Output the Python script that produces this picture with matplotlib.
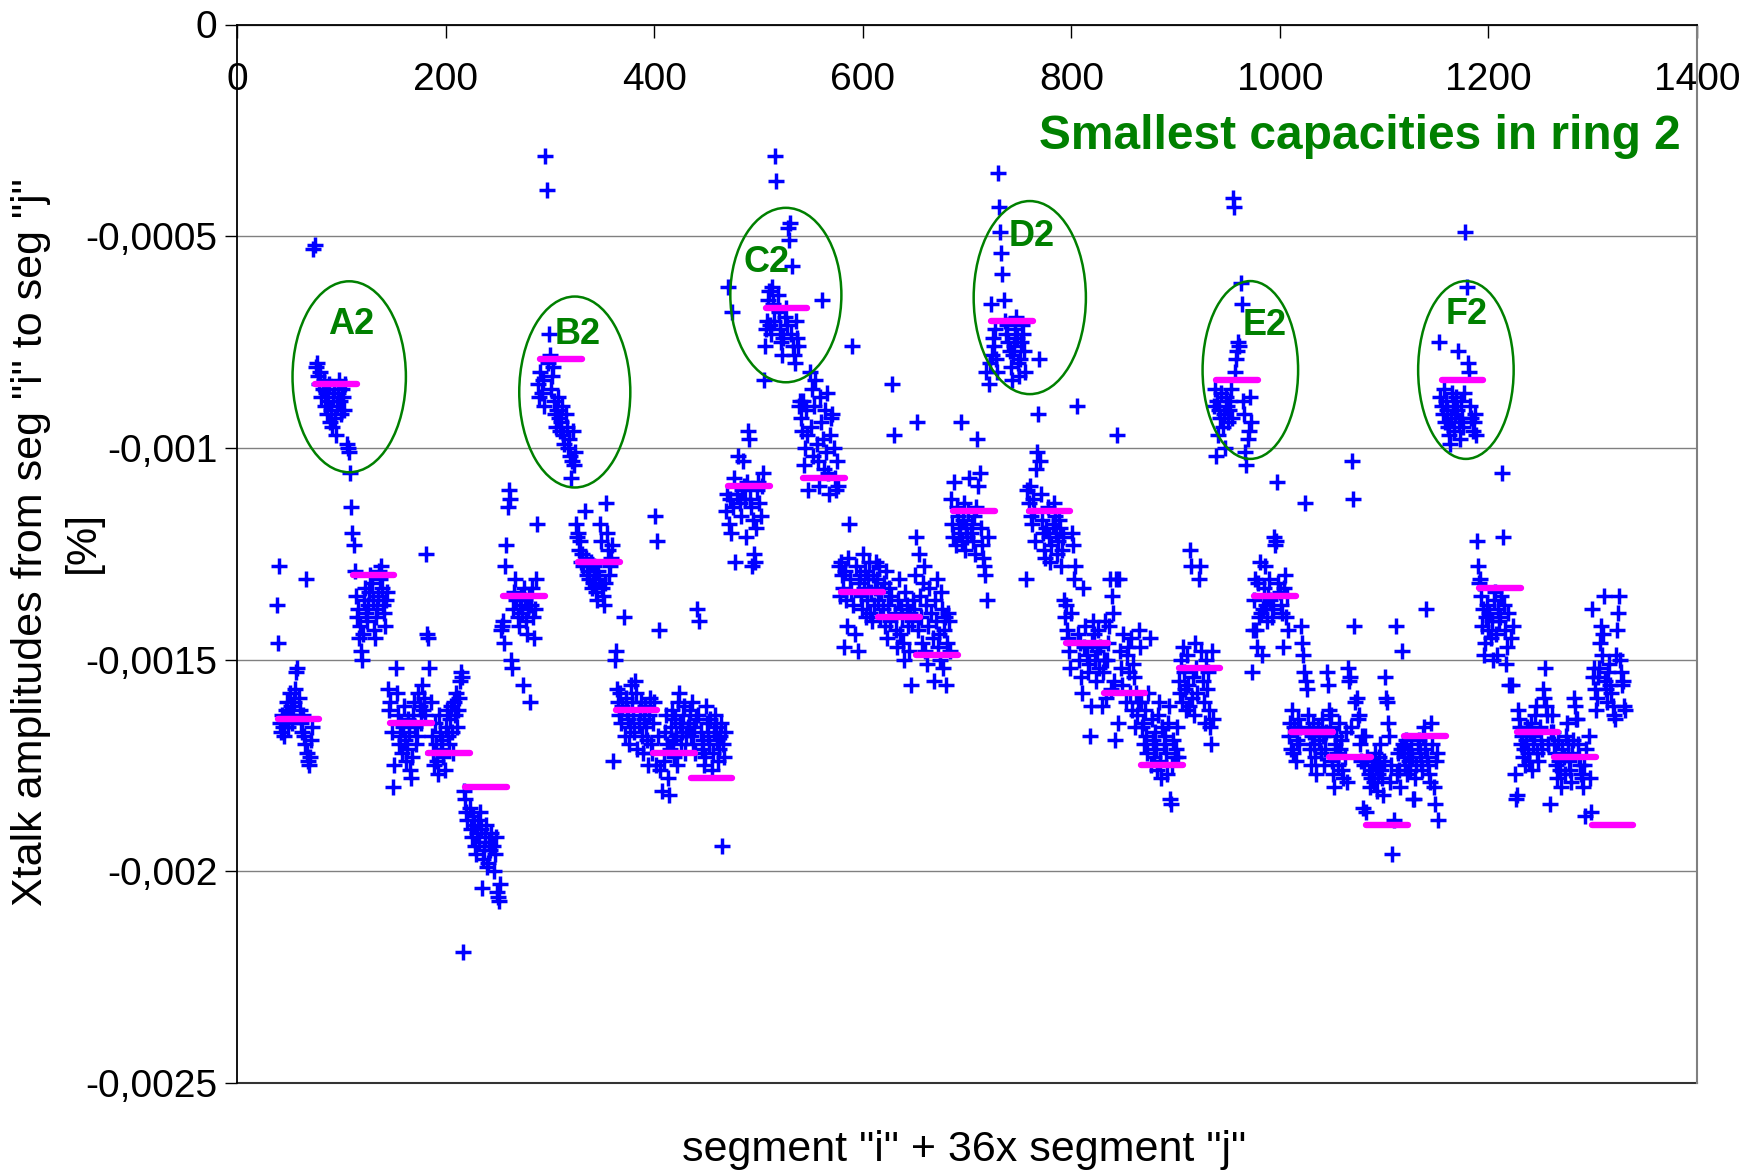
import numpy as np
import matplotlib
matplotlib.use("Agg")
import matplotlib.pyplot as plt
from matplotlib.patches import Ellipse
from matplotlib.ticker import FuncFormatter, MultipleLocator

plt.rcParams['font.family'] = ['Liberation Sans', 'DejaVu Sans']

N_SEG = 36
UNIT = 1e-5  # all amplitudes below are given in units of 1e-5 %

# Xtalk amplitude for each target segment j (points i = 1..36, i != j)
seg_j01 = [-137, -146, -128, -165, -167, -163, -166, -168, -164, -162, -160, -166, -163, -158, -161, -165, -163, -160, -157, -153, -152, -159, -162, -165, -167, -163, -168, -170, -131, -172, -174, -175, -173, -169, -166]
seg_j02 = [-53, -52, -81, -80, -83, -85, -82, -88, -86, -84, -90, -87, -92, -89, -85, -94, -91, -95, -88, -86, -93, -97, -90, -87, -84, -89, -92, -86, -88, -91, -85, -99, -100, -101, -106]
seg_j03 = [-114, -120, -123, -129, -135, -140, -138, -145, -142, -148, -150, -144, -136, -133, -139, -141, -137, -134, -130, -132, -136, -143, -145, -140, -138, -135, -129, -131, -128, -133, -137, -139, -142, -136, -134]
seg_j04 = [-157, -162, -160, -167, -180, -175, -152, -158, -163, -170, -168, -165, -172, -166, -161, -169, -174, -171, -164, -167, -176, -178, -173, -163, -160, -166, -170, -168, -158, -161, -165, -156, -162, -159, -163]
seg_j05 = [-125, -144, -145, -152, -160, -168, -172, -175, -165, -170, -174, -177, -163, -167, -171, -169, -173, -176, -166, -162, -168, -170, -164, -161, -167, -172, -160, -163, -158, -166, -162, -159, -155, -153, -154]
seg_j06 = [-219, -181, -183, -186, -188, -185, -190, -192, -187, -189, -194, -196, -191, -188, -193, -186, -190, -204, -197, -195, -192, -189, -199, -198, -193, -195, -191, -194, -200, -196, -192, -205, -206, -207, -203]
seg_j07 = [-143, -142, -141, -146, -128, -123, -114, -110, -112, -150, -152, -138, -134, -131, -136, -140, -142, -137, -135, -139, -156, -133, -136, -141, -144, -138, -135, -160, -137, -133, -140, -145, -138, -131, -118]
seg_j08 = [-85, -88, -82, -87, -84, -90, -31, -39, -80, -73, -78, -86, -83, -81, -89, -92, -95, -91, -88, -93, -96, -94, -90, -97, -99, -92, -95, -100, -98, -102, -107, -103, -96, -104, -101]
seg_j09 = [-118, -121, -120, -124, -122, -127, -125, -128, -115, -126, -130, -129, -131, -127, -133, -132, -128, -130, -134, -136, -129, -131, -118, -122, -133, -135, -137, -132, -113, -120, -124, -130, -128, -126, -123]
seg_j10 = [-174, -150, -148, -157, -160, -163, -158, -165, -161, -140, -168, -159, -162, -164, -170, -166, -156, -160, -163, -167, -155, -158, -171, -165, -162, -160, -168, -172, -164, -161, -166, -169, -175, -163, -159]
seg_j11 = [-170, -172, -165, -160, -116, -175, -122, -168, -143, -176, -181, -174, -167, -163, -170, -178, -182, -171, -166, -162, -169, -173, -164, -168, -175, -160, -158, -165, -170, -167, -163, -161, -172, -168, -166]
seg_j12 = [-165, -162, -168, -160, -170, -166, -172, -164, -138, -163, -141, -167, -171, -169, -175, -173, -161, -165, -168, -170, -164, -176, -172, -167, -163, -166, -169, -174, -171, -168, -165, -194, -170, -173, -167]
seg_j13 = [-115, -111, -62, -118, -112, -120, -68, -114, -107, -127, -111, -102, -113, -116, -110, -103, -109, -112, -121, -108, -96, -98, -112, -114, -128, -117, -125, -127, -119, -110, -108, -113, -116, -109, -106]
seg_j14 = [-84, -76, -72, -70, -65, -63, -71, -73, -62, -66, -70, -31, -37, -64, -68, -72, -75, -78, -74, -69, -67, -71, -48, -51, -47, -73, -57, -76, -78, -80, -70, -74, -76, -90, -89]
seg_j15 = [-93, -96, -89, -104, -100, -91, -97, -110, -82, -95, -86, -102, -90, -84, -99, -103, -109, -88, -94, -65, -98, -105, -91, -101, -87, -106, -111, -97, -93, -92, -100, -107, -110, -103, -109]
seg_j16 = [-128, -135, -127, -130, -133, -147, -129, -136, -142, -126, -118, -131, -134, -76, -137, -144, -128, -148, -132, -130, -135, -138, -125, -133, -129, -140, -136, -131, -127, -139, -134, -141, -130, -137, -133]
seg_j17 = [-127, -131, -136, -128, -140, -134, -138, -132, -142, -129, -145, -137, -133, -141, -135, -85, -97, -139, -143, -147, -136, -131, -144, -138, -140, -146, -150, -134, -137, -142, -148, -139, -156, -141, -136]
seg_j18 = [-138, -130, -121, -94, -143, -125, -135, -140, -146, -132, -128, -148, -137, -151, -142, -133, -139, -145, -155, -136, -141, -131, -147, -144, -150, -134, -138, -152, -143, -140, -156, -146, -139, -141, -148]
seg_j19 = [-112, -118, -121, -108, -123, -114, -116, -120, -119, -94, -122, -117, -113, -124, -119, -121, -115, -107, -120, -118, -122, -116, -125, -114, -98, -109, -106, -119, -123, -126, -128, -130, -82, -136, -121]
seg_j20 = [-85, -80, -66, -78, -74, -76, -72, -79, -82, -35, -43, -49, -54, -59, -65, -70, -73, -71, -75, -77, -81, -84, -78, -76, -72, -69, -74, -80, -83, -79, -75, -71, -73, -77, -82]
seg_j21 = [-131, -110, -113, -109, -116, -118, -112, -115, -122, -105, -101, -92, -79, -103, -111, -117, -120, -124, -126, -119, -114, -121, -127, -123, -118, -113, -116, -120, -125, -122, -117, -119, -128, -124, -121]
seg_j22 = [-136, -140, -137, -143, -145, -148, -152, -139, -120, -123, -131, -128, -90, -144, -150, -146, -154, -158, -133, -147, -142, -149, -153, -151, -168, -161, -146, -141, -144, -150, -155, -148, -143, -152, -147]
seg_j23 = [-161, -153, -150, -141, -159, -150, -146, -142, -131, -157, -135, -139, -155, -169, -131, -97, -165, -131, -148, -152, -156, -144, -160, -149, -147, -153, -158, -145, -162, -151, -154, -166, -158, -163, -160]
seg_j24 = [-143, -147, -160, -166, -165, -170, -162, -168, -172, -158, -145, -175, -164, -169, -173, -167, -171, -176, -163, -160, -174, -178, -166, -170, -168, -172, -177, -165, -161, -183, -184, -175, -169, -173, -171]
seg_j25 = [-166, -173, -155, -158, -150, -160, -147, -153, -157, -162, -149, -156, -161, -124, -128, -159, -154, -163, -146, -152, -158, -131, -128, -148, -155, -160, -165, -150, -157, -153, -162, -166, -170, -148, -164]
seg_j26 = [-90, -86, -102, -89, -97, -91, -93, -87, -95, -92, -100, -88, -90, -94, -91, -89, -86, -93, -41, -43, -82, -79, -77, -75, -76, -61, -66, -89, -92, -101, -104, -98, -96, -88, -94]
seg_j27 = [-153, -143, -136, -131, -143, -147, -132, -140, -127, -139, -149, -138, -133, -128, -137, -141, -135, -131, -136, -140, -138, -121, -123, -122, -108, -132, -134, -137, -139, -147, -133, -130, -140, -135, -143]
seg_j28 = [-168, -165, -171, -162, -172, -166, -174, -169, -164, -170, -166, -142, -146, -149, -153, -113, -155, -157, -163, -167, -171, -175, -168, -165, -170, -173, -177, -166, -169, -172, -164, -168, -175, -171, -167]
seg_j29 = [-153, -156, -162, -166, -163, -174, -177, -180, -170, -168, -172, -175, -165, -171, -169, -176, -178, -173, -167, -179, -152, -155, -154, -166, -103, -112, -142, -160, -159, -164, -163, -170, -174, -168, -185]
seg_j30 = [-175, -168, -186, -173, -177, -180, -178, -176, -174, -179, -172, -175, -181, -177, -173, -170, -176, -178, -182, -174, -154, -159, -160, -165, -168, -179, -175, -196, -188, -142, -177, -172, -176, -180, -171]
seg_j31 = [-148, -170, -173, -175, -169, -177, -172, -174, -176, -171, -173, -183, -183, -178, -175, -170, -169, -172, -174, -176, -168, -166, -171, -138, -173, -175, -177, -179, -165, -170, -180, -184, -174, -172, -188]
seg_j32 = [-75, -88, -90, -92, -86, -94, -89, -91, -95, -97, -99, -93, -87, -90, -96, -92, -88, -91, -77, -94, -98, -89, -93, -95, -87, -49, -62, -80, -82, -90, -93, -96, -94, -92, -97]
seg_j33 = [-122, -128, -132, -131, -135, -142, -138, -149, -146, -140, -137, -143, -139, -145, -141, -150, -136, -134, -144, -149, -138, -141, -140, -135, -106, -121, -137, -143, -151, -147, -139, -156, -145, -156, -142]
seg_j34 = [-177, -183, -182, -162, -164, -166, -170, -168, -173, -171, -175, -169, -166, -172, -174, -167, -165, -176, -170, -168, -163, -161, -172, -174, -166, -169, -171, -157, -159, -152, -161, -163, -170, -184, -167]
seg_j35 = [-163, -167, -170, -172, -175, -178, -169, -174, -176, -180, -171, -173, -177, -168, -165, -170, -174, -176, -179, -172, -169, -159, -161, -164, -164, -170, -173, -175, -177, -178, -180, -175, -187, -171, -168]
seg_j36 = [-178, -186, -138, -154, -152, -157, -162, -159, -154, -152, -146, -142, -149, -144, -135, -155, -157, -160, -153, -151, -156, -158, -161, -163, -164, -149, -143, -139, -135, -150, -153, -156, -155, -161, -162]

# Level (magenta bar) for each target segment j
bar_levels = [-164, -85, -130, -165, -172, -180, -135, -79, -127, -162, -172, -178,
              -109, -67, -107, -134, -140, -149, -115, -70, -115, -146, -158, -175,
              -152, -84, -135, -167, -173, -189, -168, -84, -133, -167, -173, -189]

# Highlighted groups (green ellipses)
ellipse_names = ["A2", "B2", "C2", "D2", "E2", "F2"]
ellipse_cx = [107.6, 323.9, 526.3, 760.2, 971.7, 1178.4]
ellipse_cy = [-83.2, -86.8, -63.9, -64.5, -81.6, -81.6]
ellipse_w = [108.7, 106.5, 106.5, 107.6, 91.6, 91.6]
ellipse_h = [45.1, 45.1, 41.2, 45.6, 42.0, 42.0]
label_x = [109.7, 327.1, 508.2, 761.8, 985.5, 1179.4]
label_y = [-70.8, -73.2, -56.1, -50.1, -71.1, -68.5]

x_ticks = [0, 200, 400, 600, 800, 1000, 1200, 1400]

groups = [seg_j01, seg_j02, seg_j03, seg_j04, seg_j05, seg_j06, seg_j07, seg_j08, seg_j09,
          seg_j10, seg_j11, seg_j12, seg_j13, seg_j14, seg_j15, seg_j16, seg_j17, seg_j18,
          seg_j19, seg_j20, seg_j21, seg_j22, seg_j23, seg_j24, seg_j25, seg_j26, seg_j27,
          seg_j28, seg_j29, seg_j30, seg_j31, seg_j32, seg_j33, seg_j34, seg_j35, seg_j36]

W, H = 1742, 1172
fig = plt.figure(figsize=(W / 100, H / 100), dpi=100)
ax_l, ax_r, ax_t, ax_b = 237, 1697, 24.5, 1083
ax = fig.add_axes([ax_l / W, 1 - ax_b / H, (ax_r - ax_l) / W, (ax_b - ax_t) / H])

BLUE = '#0000ff'
MAGENTA = '#ff00ff'
GREEN = '#008000'

xs, ys = [], []
for j, vals in enumerate(groups, start=1):
    i_idx = [i for i in range(1, N_SEG + 1) if i != j]
    for i, v in zip(i_idx, vals):
        xs.append(i + N_SEG * j)
        ys.append(v * UNIT)
ax.plot(xs, ys, ls='none', marker='+', ms=12, mew=2.5, color=BLUE, zorder=3)

for j, lev in enumerate(bar_levels, start=1):
    ax.plot([N_SEG * j + 3, N_SEG * j + 43], [lev * UNIT, lev * UNIT], color=MAGENTA,
            lw=4.6, solid_capstyle='round', zorder=4)

for name, cx, cy, w, h, lx, ly in zip(ellipse_names, ellipse_cx, ellipse_cy, ellipse_w,
                                      ellipse_h, label_x, label_y):
    ax.add_patch(Ellipse((cx, cy * UNIT), w, h * UNIT, fill=False, ec=GREEN, lw=1.8, zorder=5))
    ax.text(lx, ly * UNIT, name, color=GREEN, fontsize=26, fontweight='bold',
            ha='center', va='center', zorder=6)

ax.text(1384, -0.000264, 'Smallest capacities in ring 2', color=GREEN, fontsize=34.5,
        fontweight='bold', ha='right', va='center', zorder=6)

ax.set_xlim(0, 1400)
ax.set_ylim(-0.0025, 0)
ax.set_xticks(x_ticks)
ax.yaxis.set_major_locator(MultipleLocator(0.0005))
ax.yaxis.set_major_formatter(FuncFormatter(lambda v, p: '0' if abs(v) < 1e-12 else f'{v:g}'.replace('.', ',')))

ax.spines['bottom'].set_position(('data', 0))
ax.spines['bottom'].set_color('black')
ax.spines['bottom'].set_linewidth(1.3)
ax.spines['top'].set_visible(False)
ax.spines['left'].set_color('black')
ax.spines['left'].set_linewidth(1.3)
ax.spines['right'].set_color('#808080')
ax.spines['right'].set_linewidth(1.5)
ax.plot([0, 1], [0, 0], transform=ax.transAxes, color='#333333', lw=1.5, clip_on=False, zorder=2)

ax.tick_params(axis='x', direction='out', length=9, width=1, pad=18, labelsize=28)
ax.tick_params(axis='y', direction='out', length=9, width=1, pad=5, labelsize=28)
ax.yaxis.grid(True, color='#808080', lw=1)
ax.set_axisbelow(True)

fig.text(31 / W, 1 - 542 / H, 'Xtalk amplitudes from seg "i" to seg "j"', rotation=90,
         fontsize=31, ha='center', va='center')
fig.text(83 / W, 1 - 542 / H, '[%]', rotation=90, fontsize=31, ha='center', va='center')
fig.text(964 / W, 1 - 1150 / H, 'segment "i" + 36x segment "j"', fontsize=31,
         ha='center', va='center')

fig.savefig('out.png', dpi=100)
